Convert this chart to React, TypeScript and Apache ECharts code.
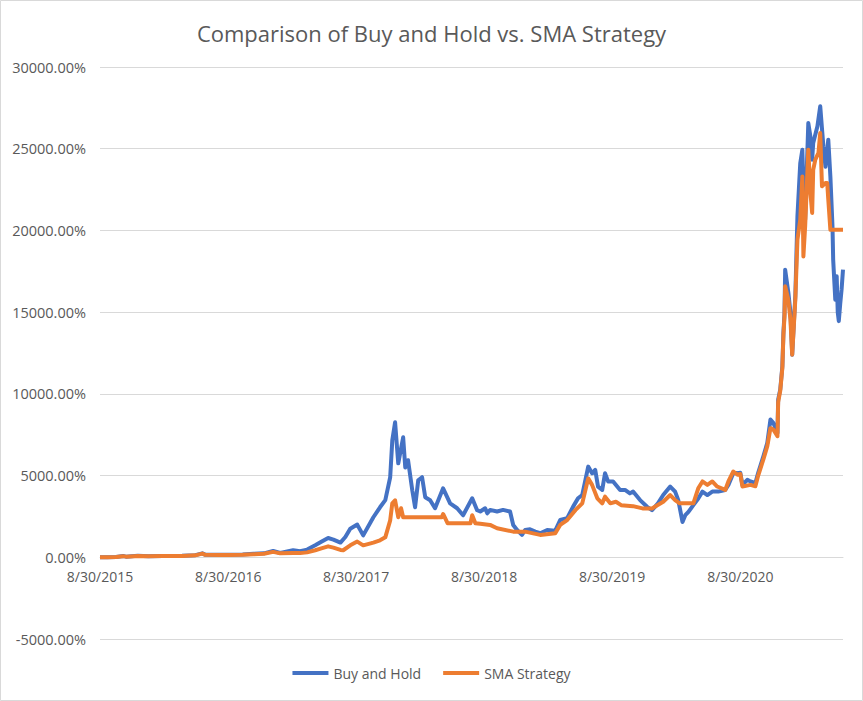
import React, { useEffect, useRef } from "react";
import * as echarts from "echarts";

const TITLE = "Comparison of Buy and Hold vs. SMA Strategy";
const SERIES_NAMES = ["Buy and Hold", "SMA Strategy"];
const X_TICK_DATES = ["2015-08-30", "2016-08-30", "2017-08-30", "2018-08-30", "2019-08-30", "2020-08-30"];
const X_MIN = "2015-08-30";
const X_MAX = "2021-06-19";
const Y_MIN = -5000;
const Y_MAX = 30000;
const Y_INTERVAL = 5000;

const buyHoldDates = [
  "2015-08-30", "2015-09-20", "2015-10-15", "2015-11-04", "2015-11-12", "2015-12-16", "2016-01-15", "2016-02-25",
  "2016-04-20", "2016-05-28", "2016-06-17", "2016-06-25", "2016-08-05", "2016-08-30", "2016-10-10", "2016-11-10",
  "2016-12-10", "2017-01-05", "2017-01-25", "2017-03-03", "2017-03-23", "2017-04-12", "2017-05-05", "2017-05-25",
  "2017-06-11", "2017-06-26", "2017-07-16", "2017-07-30", "2017-08-13", "2017-09-02", "2017-09-19", "2017-10-18",
  "2017-11-06", "2017-11-21", "2017-12-05", "2017-12-11", "2017-12-19", "2017-12-28", "2018-01-11", "2018-01-17",
  "2018-01-25", "2018-02-06", "2018-02-14", "2018-02-23", "2018-03-06", "2018-03-15", "2018-03-29", "2018-04-12",
  "2018-05-05", "2018-05-25", "2018-06-14", "2018-07-01", "2018-07-27", "2018-08-10", "2018-08-19", "2018-09-02",
  "2018-09-08", "2018-09-16", "2018-10-06", "2018-10-23", "2018-11-12", "2018-11-21", "2018-12-02", "2018-12-16",
  "2018-12-25", "2019-01-08", "2019-01-23", "2019-02-06", "2019-02-26", "2019-03-21", "2019-04-04", "2019-04-24",
  "2019-05-11", "2019-05-25", "2019-06-06", "2019-06-14", "2019-06-23", "2019-07-04", "2019-07-13", "2019-07-21",
  "2019-08-02", "2019-08-10", "2019-08-19", "2019-09-02", "2019-09-22", "2019-10-06", "2019-10-20", "2019-10-29",
  "2019-11-18", "2019-12-08", "2019-12-22", "2020-01-08", "2020-01-23", "2020-02-12", "2020-02-26", "2020-03-06",
  "2020-03-18", "2020-03-26", "2020-04-04", "2020-04-18", "2020-05-02", "2020-05-14", "2020-05-28", "2020-06-11",
  "2020-06-28", "2020-07-18", "2020-07-27", "2020-08-10", "2020-08-22", "2020-08-30", "2020-09-05", "2020-09-19",
  "2020-09-28", "2020-10-12", "2020-10-20", "2020-11-04", "2020-11-15", "2020-11-24", "2020-12-02", "2020-12-14",
  "2020-12-16", "2020-12-22", "2020-12-28", "2020-12-31", "2021-01-03", "2021-01-05", "2021-01-14", "2021-01-20",
  "2021-01-25", "2021-02-03", "2021-02-09", "2021-02-17", "2021-02-23", "2021-02-26", "2021-03-03", "2021-03-12",
  "2021-03-18", "2021-03-23", "2021-03-26", "2021-04-07", "2021-04-15", "2021-04-24", "2021-04-30", "2021-05-08",
  "2021-05-14", "2021-05-20", "2021-05-22", "2021-05-28", "2021-06-01", "2021-06-04", "2021-06-07", "2021-06-11",
  "2021-06-15", "2021-06-19",
];
const buyHoldValues = [
  0, 5, 15, 75, 40, 95, 65, 85,
  90, 130, 240, 160, 150, 150, 170, 210,
  240, 390, 260, 430, 370, 470, 730, 975,
  1180, 1080, 900, 1240, 1750, 2000, 1340, 2450,
  3060, 3500, 4900, 7160, 8260, 5750, 7340, 5500,
  5940, 4100, 3060, 4710, 4900, 3670, 3490, 3000,
  4220, 3300, 3000, 2570, 3610, 2880, 2800, 3000,
  2690, 2900, 2800, 2900, 2800, 1980, 1670, 1370,
  1670, 1710, 1570, 1470, 1670, 1630, 2280, 2390,
  3100, 3610, 3810, 4630, 5550, 5140, 5345, 4320,
  4120, 5140, 4630, 4640, 4120, 4120, 3910, 4020,
  3500, 3090, 2880, 3300, 3810, 4330, 4020, 3500,
  2160, 2575, 2780, 3190, 3600, 4020, 3810, 4020,
  4020, 4120, 4430, 5150, 5150, 5170, 4430, 4740,
  4640, 4550, 5170, 6190, 7000, 8430, 8230, 7600,
  9650, 10270, 11700, 13740, 14900, 17600, 16200, 15000,
  12400, 16000, 20860, 24100, 24940, 22700, 20650, 26570,
  25750, 24330, 25350, 26370, 27600, 25140, 23900, 25550,
  23300, 20250, 18200, 15760, 17200, 15000, 14450, 15500,
  16400, 17600,
];

const smaDates = [
  "2015-08-30", "2015-09-20", "2015-10-15", "2015-11-04", "2015-11-12", "2015-12-16", "2016-01-15", "2016-02-25",
  "2016-04-20", "2016-05-28", "2016-06-17", "2016-06-25", "2016-08-05", "2016-08-30", "2016-10-10", "2016-11-10",
  "2016-12-10", "2017-01-05", "2017-01-25", "2017-03-03", "2017-03-23", "2017-04-12", "2017-05-05", "2017-05-25",
  "2017-06-11", "2017-06-26", "2017-07-16", "2017-07-24", "2017-08-13", "2017-09-02", "2017-09-19", "2017-10-18",
  "2017-11-06", "2017-11-21", "2017-12-05", "2017-12-11", "2017-12-19", "2017-12-28", "2018-01-05", "2018-01-11",
  "2018-05-01", "2018-05-05", "2018-05-18", "2018-07-22", "2018-07-27", "2018-08-05", "2018-08-19", "2018-09-16",
  "2018-10-06", "2018-11-21", "2018-12-25", "2019-02-06", "2019-03-21", "2019-04-04", "2019-04-24", "2019-05-18",
  "2019-06-06", "2019-06-23", "2019-07-04", "2019-07-19", "2019-08-02", "2019-08-10", "2019-08-25", "2019-09-10",
  "2019-09-25", "2019-10-29", "2019-11-25", "2019-12-22", "2020-01-23", "2020-02-12", "2020-02-26", "2020-03-10",
  "2020-04-18", "2020-05-02", "2020-05-14", "2020-05-28", "2020-06-11", "2020-06-25", "2020-07-18", "2020-07-27",
  "2020-08-10", "2020-08-22", "2020-08-30", "2020-09-05", "2020-09-28", "2020-10-12", "2020-10-20", "2020-11-04",
  "2020-11-15", "2020-11-24", "2020-12-02", "2020-12-14", "2020-12-16", "2020-12-22", "2020-12-28", "2020-12-31",
  "2021-01-03", "2021-01-05", "2021-01-14", "2021-01-20", "2021-01-25", "2021-02-03", "2021-02-09", "2021-02-17",
  "2021-02-23", "2021-02-26", "2021-03-03", "2021-03-12", "2021-03-18", "2021-03-23", "2021-03-26", "2021-04-01",
  "2021-04-10", "2021-04-15", "2021-04-20", "2021-04-30", "2021-05-05", "2021-05-08", "2021-05-14", "2021-06-19",
];
const smaValues = [
  0, 5, 15, 70, 40, 85, 60, 75,
  80, 120, 225, 150, 135, 135, 150, 185,
  215, 330, 240, 260, 255, 300, 430, 560,
  670, 590, 450, 430, 730, 960, 730, 900,
  1040, 1220, 2260, 3300, 3490, 2450, 3000, 2450,
  2450, 2650, 2080, 2080, 2570, 2080, 2050, 1980,
  1775, 1570, 1570, 1370, 1470, 1980, 2280, 2900,
  3300, 4830, 4430, 3610, 3300, 3710, 3300, 3400,
  3190, 3130, 2990, 2990, 3400, 3810, 3500, 3300,
  3300, 4220, 4640, 4430, 4640, 4330, 4120, 4640,
  5250, 5050, 5100, 4330, 4430, 4350, 5000, 6000,
  6800, 7900, 7820, 7410, 9500, 10200, 11600, 13600,
  14700, 16580, 15760, 14540, 12400, 15800, 19430, 20650,
  23300, 18410, 20250, 24940, 22300, 21070, 23700, 24330,
  24740, 25960, 22700, 22900, 22900, 21900, 20040, 20040,
];

const COLORS = ["#4472C4", "#ED7D31"];
const FONT = "'Open Sans', 'Noto Sans', sans-serif";
const TEXT_COLOR = "#595959";
const GRID_COLOR = "#d9d9d9";
const CHART_H = 701;
const GRID_TOP = 67;
const GRID_BOTTOM = 62;

function toTime(s: string): number {
  const [y, m, d] = s.split("-").map(Number);
  return Date.UTC(y, m - 1, d);
}

function fmtDate(t: number): string {
  const d = new Date(t);
  return `${d.getUTCMonth() + 1}/${d.getUTCDate()}/${d.getUTCFullYear()}`;
}

export default function App() {
  const ref = useRef<HTMLDivElement>(null);

  useEffect(() => {
    if (!ref.current) return;
    const chart = echarts.init(ref.current, undefined, { renderer: "svg" });
    const bh = buyHoldDates.map((d, i) => [toTime(d), buyHoldValues[i]]);
    const sma = smaDates.map((d, i) => [toTime(d), smaValues[i]]);
    const tickTimes = X_TICK_DATES.map(toTime);
    // place the category axis where the value axis crosses zero (as Excel does)
    const plotH = CHART_H - GRID_TOP - GRID_BOTTOM;
    const zeroOffset = -((0 - Y_MIN) / (Y_MAX - Y_MIN)) * plotH;

    chart.setOption({
      animation: false,
      backgroundColor: "#ffffff",
      title: {
        text: TITLE,
        left: "center",
        top: 17,
        textStyle: { fontFamily: FONT, fontSize: 22, fontWeight: "normal", color: TEXT_COLOR },
      },
      graphic: [
        {
          type: "rect",
          shape: { x: 0.5, y: 0.5, width: 862, height: 700 },
          style: { fill: "none", stroke: GRID_COLOR, lineWidth: 1 },
          silent: true,
        },
      ],
      legend: {
        data: SERIES_NAMES,
        top: 661,
        left: "center",
        icon: "rect",
        itemWidth: 36,
        itemHeight: 4,
        itemGap: 22,
        textStyle: { fontFamily: FONT, fontSize: 14, color: TEXT_COLOR },
      },
      grid: { left: 100, right: 20, top: GRID_TOP, bottom: GRID_BOTTOM, containLabel: false },
      xAxis: {
        type: "value",
        position: "bottom",
        offset: zeroOffset,
        min: toTime(X_MIN),
        max: toTime(X_MAX),
        axisLine: { show: true, onZero: false, lineStyle: { color: GRID_COLOR, width: 1 } },
        axisTick: { show: false },
        splitLine: { show: false },
        axisLabel: {
          customValues: tickTimes,
          formatter: (v: number) => fmtDate(v),
          fontFamily: FONT,
          fontSize: 14,
          color: TEXT_COLOR,
          margin: 12,
          hideOverlap: false,
        },
      },
      yAxis: {
        type: "value",
        min: Y_MIN,
        max: Y_MAX,
        interval: Y_INTERVAL,
        axisLine: { show: false, onZero: false },
        axisTick: { show: false },
        splitLine: { show: true, lineStyle: { color: GRID_COLOR, width: 1 } },
        axisLabel: {
          formatter: (v: number) => v.toFixed(2) + "%",
          fontFamily: FONT,
          fontSize: 14.5,
          color: TEXT_COLOR,
          margin: 14,
        },
      },
      series: [
        {
          name: SERIES_NAMES[0],
          type: "line",
          data: bh,
          showSymbol: false,
          symbol: "none",
          lineStyle: { color: COLORS[0], width: 4, join: "round" },
          itemStyle: { color: COLORS[0] },
          z: 2,
        },
        {
          name: SERIES_NAMES[1],
          type: "line",
          data: sma,
          showSymbol: false,
          symbol: "none",
          lineStyle: { color: COLORS[1], width: 4, join: "round" },
          itemStyle: { color: COLORS[1] },
          z: 3,
        },
      ],
    });
    return () => chart.dispose();
  }, []);

  return (
    <div
      ref={ref}
      style={{ position: "absolute", left: 0, top: 0, width: 863, height: 701 }}
    />
  );
}
